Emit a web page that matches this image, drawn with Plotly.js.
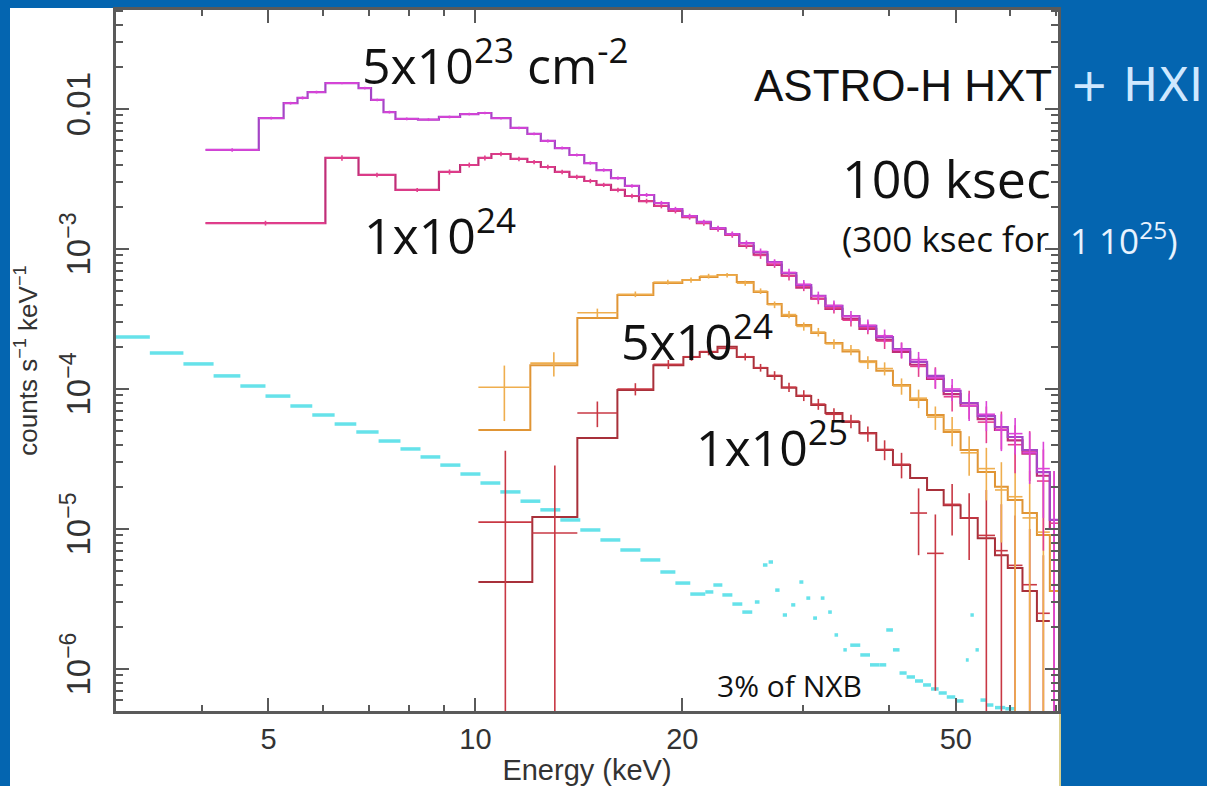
<!DOCTYPE html>
<html><head><meta charset="utf-8">
<script src="https://cdn.plot.ly/plotly-3.0.1.min.js"></script>
<style>html,body{margin:0;padding:0;background:#0465b0;overflow:hidden}</style>
</head><body><div id="chart" style="width:1207px;height:786px"></div>
<script>
// ================= DATA =================
// N_H = 5x10^23 cm^-2 (bin edges in keV, counts s^-1 keV^-1)
const edges5e23 = [4.05, 4.84, 5.26, 5.51, 5.70, 6.05, 6.76, 7.05, 7.35, 7.65, 8.25, 8.85, 9.5, 10.1, 10.55, 11.25, 11.9, 12.45, 13.05, 13.7, 14.4, 15.0, 15.75, 16.5, 17.3, 18.2, 19.1, 20.0, 21.0, 22.0, 23.1, 24.2, 25.4, 26.6, 27.9, 29.3, 30.8, 32.3, 34.2, 36.2, 38.3, 40.5, 42.9, 45.4, 48.0, 50.8, 53.8, 57.0, 59.5, 62.5, 65.6, 68.5, 70.5];
const model5e23 = [5.10e-3, 8.6e-3, 1.10e-2, 1.20e-2, 1.32e-2, 1.53e-2, 1.41e-2, 1.16e-2, 9.5e-3, 8.5e-3, 8.4e-3, 8.77e-3, 9.2e-3, 9.36e-3, 8.6e-3, 7.32e-3, 6.63e-3, 5.91e-3, 5.26e-3, 4.69e-3, 4.11e-3, 3.66e-3, 3.21e-3, 2.82e-3, 2.43e-3, 2.13e-3, 1.93e-3, 1.72e-3, 1.56e-3, 1.41e-3, 1.28e-3, 1.10e-3, 9.5e-4, 8.07e-4, 6.74e-4, 5.53e-4, 4.62e-4, 3.92e-4, 3.32e-4, 2.82e-4, 2.35e-4, 1.93e-4, 1.56e-4, 1.24e-4, 9.68e-5, 7.94e-5, 6.41e-5, 5.35e-5, 4.54e-5, 3.66e-5, 2.55e-5, 1.16e-5];
const data5e23 = [5.10e-3, 8.6e-3, 1.10e-2, 1.20e-2, 1.32e-2, 1.53e-2, 1.41e-2, 1.16e-2, 9.5e-3, 8.5e-3, 8.4e-3, 8.77e-3, 9.2e-3, 9.36e-3, 8.6e-3, 7.32e-3, 6.63e-3, 5.91e-3, 5.26e-3, 4.69e-3, 4.11e-3, 3.66e-3, 3.21e-3, 2.82e-3, 2.43e-3, 2.13e-3, 1.93e-3, 1.72e-3, 1.56e-3, 1.41e-3, 1.28e-3, 1.10e-3, 9.6e-4, 8.0e-4, 6.8e-4, 5.6e-4, 4.6e-4, 3.95e-4, 3.3e-4, 2.85e-4, 2.4e-4, 1.9e-4, 1.62e-4, 1.2e-4, 1.0e-4, 7.6e-5, 6.6e-5, 5.1e-5, 4.8e-5, 3.5e-5, 2.7e-5, 1.0e-5];
const err5e23 = [1.5e-4, 2e-4, 2.5e-4, 3e-4, 3e-4, 3e-4, 3e-4, 2.5e-4, 2.2e-4, 2e-4, 2e-4, 2e-4, 2e-4, 2e-4, 1.8e-4, 1.6e-4, 1.5e-4, 1.4e-4, 1.3e-4, 1.2e-4, 1.1e-4, 1.0e-4, 9e-5, 8.5e-5, 8e-5, 7.5e-5, 7e-5, 6.5e-5, 6e-5, 5.8e-5, 5.5e-5, 5e-5, 4.8e-5, 4.5e-5, 4.2e-5, 4e-5, 3.6e-5, 3.3e-5, 3e-5, 2.8e-5, 2.6e-5, 2.4e-5, 2.2e-5, 2e-5, 1.8e-5, 1.7e-5, 1.6e-5, 1.5e-5, 1.4e-5, 1.4e-5, 1.5e-5, 1.6e-5];

// N_H = 1x10^24
const edges1e24 = [4.05, 6.05, 6.76, 7.65, 8.85, 9.5, 10.1, 10.55, 11.25, 11.9, 12.45, 13.05, 13.7, 14.4, 15.0, 15.75, 16.5, 17.3, 18.2, 19.1, 20.0, 21.0, 22.0, 23.1, 24.2, 25.4, 26.6, 27.9, 29.3, 30.8, 32.3, 34.2, 36.2, 38.3, 40.5, 42.9, 45.4, 48.0, 50.8, 53.8, 57.0, 59.5, 62.5, 65.6, 68.5, 70.5];
const model1e24 = [1.53e-3, 4.47e-3, 3.38e-3, 2.64e-3, 3.55e-3, 3.98e-3, 4.47e-3, 4.77e-3, 4.4e-3, 4.18e-3, 3.85e-3, 3.55e-3, 3.27e-3, 3.06e-3, 2.87e-3, 2.64e-3, 2.39e-3, 2.20e-3, 2.03e-3, 1.87e-3, 1.69e-3, 1.53e-3, 1.39e-3, 1.26e-3, 1.05e-3, 9.1e-4, 7.7e-4, 6.45e-4, 5.3e-4, 4.42e-4, 3.74e-4, 3.17e-4, 2.69e-4, 2.24e-4, 1.84e-4, 1.49e-4, 1.18e-4, 9.2e-5, 7.6e-5, 6.1e-5, 5.1e-5, 4.3e-5, 3.45e-5, 2.4e-5, 1.0e-5];
const data1e24 = [1.53e-3, 4.47e-3, 3.38e-3, 2.64e-3, 3.55e-3, 3.98e-3, 4.47e-3, 4.77e-3, 4.4e-3, 4.18e-3, 3.85e-3, 3.55e-3, 3.27e-3, 3.06e-3, 2.87e-3, 2.64e-3, 2.39e-3, 2.20e-3, 2.03e-3, 1.87e-3, 1.69e-3, 1.53e-3, 1.39e-3, 1.26e-3, 1.06e-3, 9.0e-4, 7.8e-4, 6.4e-4, 5.4e-4, 4.4e-4, 3.8e-4, 3.1e-4, 2.75e-4, 2.2e-4, 1.9e-4, 1.45e-4, 1.22e-4, 8.8e-5, 7.9e-5, 5.8e-5, 5.3e-5, 4.0e-5, 3.6e-5, 2.2e-5, 1.1e-5];
const err1e24 = [6e-5, 2e-4, 1.3e-4, 9e-5, 1.5e-4, 1.6e-4, 1.8e-4, 1.8e-4, 1.6e-4, 1.5e-4, 1.4e-4, 1.3e-4, 1.2e-4, 1.1e-4, 1.0e-4, 9.5e-5, 9e-5, 8.5e-5, 8e-5, 7.5e-5, 7e-5, 6.5e-5, 6e-5, 5.8e-5, 5.5e-5, 5e-5, 4.7e-5, 4.4e-5, 4e-5, 3.7e-5, 3.4e-5, 3.1e-5, 2.9e-5, 2.7e-5, 2.5e-5, 2.3e-5, 2.1e-5, 1.9e-5, 1.8e-5, 1.7e-5, 1.6e-5, 1.5e-5, 1.4e-5, 1.5e-5, 1.5e-5];

// N_H = 5x10^24
const edges5e24 = [10.1, 12.02, 14.07, 16.09, 18.15, 20.0, 21.2, 22.5, 24.0, 25.4, 26.6, 27.9, 29.3, 30.8, 32.3, 34.2, 36.2, 38.3, 40.5, 42.9, 45.4, 48.0, 50.8, 53.8, 57.0, 59.5, 62.5, 65.6, 68.5, 70.5];
const model5e24 = [5.09e-5, 1.48e-4, 3.21e-4, 4.69e-4, 5.71e-4, 6.01e-4, 6.31e-4, 6.52e-4, 5.81e-4, 4.93e-4, 4.05e-4, 3.32e-4, 2.87e-4, 2.51e-4, 2.13e-4, 1.85e-4, 1.58e-4, 1.35e-4, 1.07e-4, 8.35e-5, 6.52e-5, 4.93e-5, 3.66e-5, 2.55e-5, 2.0e-5, 1.61e-5, 1.30e-5, 9.06e-6, 3.6e-6];
const data5e24 = [1.03e-4, 1.53e-4, 3.5e-4, 4.75e-4, 5.8e-4, 6.0e-4, 6.4e-4, 6.5e-4, 5.7e-4, 5.0e-4, 4.0e-4, 3.4e-4, 2.8e-4, 2.55e-4, 2.1e-4, 1.9e-4, 1.55e-4, 1.4e-4, 1.05e-4, 8.6e-5, 6.3e-5, 5.1e-5, 3.5e-5, 2.7e-5, 1.9e-5, 1.7e-5, 1.2e-5, 9.5e-6, 4e-6];
const err5e24 = [4.4e-5, 3.0e-5, 2.5e-5, 2.2e-5, 2.2e-5, 2.5e-5, 2.5e-5, 2.5e-5, 2.4e-5, 2.3e-5, 2.2e-5, 2.0e-5, 1.9e-5, 1.8e-5, 1.7e-5, 1.6e-5, 1.6e-5, 1.5e-5, 1.4e-5, 1.3e-5, 1.2e-5, 1.2e-5, 1.1e-5, 1.1e-5, 1.1e-5, 1.8e-5, 1.4e-5, 1.2e-5, 6e-6];

// N_H = 1x10^25
const edges1e25 = [10.1, 12.1, 14.07, 16.09, 18.15, 20.07, 21.2, 22.5, 24.0, 25.4, 26.6, 27.9, 29.3, 30.8, 32.3, 34.2, 36.2, 38.3, 40.5, 42.9, 45.4, 48.0, 50.8, 53.8, 57.0, 59.5, 62.5, 65.6, 68.5];
const model1e25 = [4.18e-6, 1.22e-5, 4.47e-5, 9.84e-5, 1.48e-4, 1.69e-4, 1.84e-4, 2.0e-4, 1.69e-4, 1.41e-4, 1.24e-4, 1.02e-4, 8.9e-5, 7.69e-5, 6.74e-5, 5.81e-5, 4.85e-5, 3.66e-5, 2.86e-5, 2.31e-5, 1.90e-5, 1.48e-5, 1.20e-5, 8.6e-6, 6.5e-6, 5.26e-6, 3.6e-6, 2.2e-6];
const data1e25 = [1.12e-5, 9.36e-6, 6.74e-5, 1.0e-4, 1.5e-4, 1.7e-4, 1.85e-4, 1.95e-4, 1.7e-4, 1.42e-4, 1.25e-4, 1.03e-4, 9.0e-5, 7.8e-5, 6.6e-5, 5.9e-5, 4.8e-5, 3.7e-5, 2.9e-5, 1.3e-5, 6.7e-6, 1.5e-5, 1.2e-5, 9e-6, 7e-6, 5.5e-6, 4e-6, 2.5e-6];
const err1e25 = [2.5e-5, 1.9e-5, 1.4e-5, 1.0e-5, 1.1e-5, 1.1e-5, 1.1e-5, 1.1e-5, 1.0e-5, 9e-6, 9e-6, 8e-6, 8e-6, 7e-6, 7e-6, 6.5e-6, 6e-6, 6e-6, 6e-6, 6.5e-6, 6e-6, 6e-6, 6e-6, 1e-5, 8e-6, 7e-6, 6e-6, 4e-6];

// 3% of NXB (bin low edge, bin high edge, value)
const nxbLo = [3.0, 3.36, 3.76, 4.16, 4.55, 4.95, 5.38, 5.79, 6.24, 6.71, 7.23, 7.78, 8.32, 8.89, 9.51, 10.17, 10.87, 11.63, 12.43, 13.29, 14.21, 15.2, 16.25, 17.38, 18.58, 19.54, 20.54, 21.6, 22.19, 22.87, 23.65, 24.45, 25.5, 26.2, 26.7, 27.3, 28.0, 28.8, 29.6, 30.3, 31.0, 31.8, 32.6, 33.3, 34.3, 35.1, 36.3, 37.5, 38.7, 39.6, 40.5, 41.4, 42.4, 43.6, 44.8, 46.0, 47.2, 48.5, 49.9, 51.7, 52.5, 53.4, 54.3, 55.3, 57.0, 59.0];
const nxbHi = [3.36, 3.76, 4.16, 4.55, 4.95, 5.38, 5.79, 6.24, 6.71, 7.23, 7.78, 8.32, 8.89, 9.51, 10.17, 10.87, 11.63, 12.43, 13.29, 14.21, 15.2, 16.25, 17.38, 18.58, 19.54, 20.54, 21.6, 22.19, 22.87, 23.65, 24.45, 25.28, 25.9, 26.6, 27.1, 27.7, 28.4, 29.2, 30.0, 30.7, 31.4, 32.2, 33.0, 33.7, 34.7, 36.3, 37.5, 38.7, 39.6, 40.5, 41.4, 42.4, 43.6, 44.8, 46.0, 47.2, 48.5, 49.9, 51.3, 52.2, 53.1, 54.0, 55.3, 56.7, 59.0, 61.0];
const nxbVal = [2.35e-4, 1.81e-4, 1.51e-4, 1.24e-4, 1.05e-4, 8.9e-5, 7.56e-5, 6.52e-5, 5.62e-5, 4.93e-5, 4.25e-5, 3.73e-5, 3.27e-5, 2.86e-5, 2.47e-5, 2.13e-5, 1.84e-5, 1.58e-5, 1.37e-5, 1.16e-5, 9.84e-6, 8.35e-6, 7.08e-6, 6.01e-6, 4.93e-6, 4.11e-6, 3.43e-6, 3.55e-6, 3.98e-6, 3.38e-6, 2.91e-6, 2.55e-6, 3.01e-6, 5.53e-6, 5.81e-6, 3.66e-6, 2.43e-6, 2.87e-6, 4.18e-6, 3.21e-6, 2.31e-6, 3.21e-6, 2.55e-6, 1.75e-6, 1.37e-6, 1.48e-6, 1.26e-6, 1.07e-6, 1.07e-6, 1.90e-6, 1.37e-6, 9.36e-7, 8.77e-7, 8.21e-7, 7.69e-7, 7.2e-7, 6.74e-7, 6.31e-7, 5.91e-7, 1.16e-6, 2.43e-6, 1.37e-6, 6.0e-7, 5.53e-7, 5.3e-7, 5.2e-7];

// axis ticks
const xTickVals = [5, 10, 20, 50];
const xTickText = ['5', '10', '20', '50'];
const xMinorVals = [4, 6, 7, 8, 9, 30, 40, 60, 70];
const yTickVals = [1e-6, 1e-5, 1e-4, 1e-3, 1e-2];
const yTickText = ['10<sup>\u22126</sup>', '10<sup>\u22125</sup>', '10<sup>\u22124</sup>', '10<sup>\u22123</sup>', '0.01'];

// ================= BUILD =================
function stepTrace(edges, vals, color, width) {
  return {x: edges, y: vals.concat([vals[vals.length - 1]]), mode: 'lines',
    line: {shape: 'hv', color: color, width: width}, hoverinfo: 'skip', showlegend: false};
}
function crossTrace(lo, hi, vals, errs, color, th) {
  const c = [], ep = [], em = [];
  for (let i = 0; i < vals.length; i++) {
    const m = Math.sqrt(lo[i] * hi[i]);
    c.push(m); ep.push(hi[i] - m); em.push(m - lo[i]);
  }
  const t = {x: c, y: vals, mode: 'markers', marker: {size: 2, color: 'rgba(0,0,0,0)'},
    error_x: {type: 'data', symmetric: false, array: ep, arrayminus: em, width: 0, thickness: th, color: color},
    hoverinfo: 'skip', showlegend: false};
  if (errs) t.error_y = {type: 'data', array: errs, width: 0, thickness: th, color: color};
  return t;
}
const lows = e => e.slice(0, -1), highs = e => e.slice(1);

const yMinor = [];
for (let d = -7; d <= -2; d++) for (let k = 2; k <= 9; k++) yMinor.push(k * Math.pow(10, d));

const traces = [
  crossTrace(nxbLo, nxbHi, nxbVal, null, '#66e2ea', 3.5),
  stepTrace(edges1e25, model1e25, '#a8303a', 2),
  crossTrace(lows(edges1e25), highs(edges1e25), data1e25, err1e25, '#c83844', 1.6),
  stepTrace(edges5e24, model5e24, '#e09535', 2),
  crossTrace(lows(edges5e24), highs(edges5e24), data5e24, err5e24, '#efae4e', 1.6),
  stepTrace(edges1e24, model1e24, '#c02e78', 2.2),
  crossTrace(lows(edges1e24), highs(edges1e24), data1e24, err1e24, '#e4408e', 1.6),
  stepTrace(edges5e23, model5e23, '#a445c6', 2.2),
  crossTrace(lows(edges5e23), highs(edges5e23), data5e23, err5e23, '#dc44d8', 1.6)
];

const axCol = '#5a5a5a';
const axFam = 'Liberation Sans, Arial, sans-serif';
const px = v => (v - 116) / 942, py = v => (711 - v) / 701;
const ann = (text, x, y, size, color, family) => ({text: text, x: px(x), y: py(y), xref: 'paper', yref: 'paper',
  xanchor: 'left', yanchor: 'middle', showarrow: false,
  font: {family: family || 'Open Sans, sans-serif', size: size, color: color || '#111'}});

const layout = {
  width: 1207, height: 786,
  paper_bgcolor: '#0465b0', plot_bgcolor: '#ffffff',
  margin: {l: 116, r: 149, t: 10, b: 75},
  showlegend: false,
  xaxis: {type: 'log', range: [Math.log10(3), Math.log10(70.4)], autorange: false,
    tickmode: 'array', tickvals: xTickVals, ticktext: xTickText,
    ticks: 'inside', ticklen: 13, tickwidth: 2, tickcolor: axCol,
    showline: true, linecolor: axCol, linewidth: 3, mirror: 'allticks',
    showgrid: false, zeroline: false, tickfont: {family: axFam, size: 29, color: '#333'}, ticklabelstandoff: 0,
    minor: {tickvals: xMinorVals, ticks: 'inside', ticklen: 6, tickwidth: 2, tickcolor: axCol, showgrid: false},
    title: {text: 'Energy (keV)', font: {family: axFam, size: 29, color: '#333'}, standoff: 6},
    automargin: false},
  yaxis: {type: 'log', range: [-6.3, -1.293], autorange: false,
    tickmode: 'array', tickvals: yTickVals, ticktext: yTickText, tickangle: -90,
    ticks: 'inside', ticklen: 13, tickwidth: 2, tickcolor: axCol,
    showline: true, linecolor: axCol, linewidth: 3, mirror: 'allticks',
    showgrid: false, zeroline: false, tickfont: {family: axFam, size: 33, color: '#333'}, ticklabelstandoff: 10,
    minor: {tickvals: yMinor, ticks: 'inside', ticklen: 7, tickwidth: 2, tickcolor: axCol, showgrid: false},
    title: {text: 'counts s<sup>\u22121</sup> keV<sup>\u22121</sup>', font: {family: axFam, size: 26, color: '#333'}, standoff: 10},
    automargin: false},
  shapes: [
    {type: 'rect', xref: 'paper', yref: 'paper', x0: px(10), x1: px(1060), y0: py(786), y1: py(8),
      fillcolor: '#ffffff', line: {width: 0}, layer: 'below'},
    {type: 'line', xref: 'paper', yref: 'paper', x0: px(1060), x1: px(1060), y0: py(786), y1: py(8),
      line: {color: '#d9cf8c', width: 2}, layer: 'below'}
  ],
  annotations: [
    ann('5x10<sup>23</sup> cm<sup>-2</sup>', 360, 62, 50),
    ann('1x10<sup>24</sup>', 362, 233, 50),
    ann('5x10<sup>24</sup>', 619, 338, 50),
    ann('1x10<sup>25</sup>', 694, 444, 50),
    ann('ASTRO-H HXT', 752, 85, 44, '#111', axFam),
    ann('+ HXI', 1068, 85, 46, '#cfe8ff', 'DejaVu Sans, sans-serif'),
    ann('100 ksec', 840, 177, 52),
    ann('(300 ksec for', 840, 238, 35),
    ann('1 10<sup>25</sup>)', 1068, 238, 35, '#e8f3ff'),
    ann('3% of NXB', 715, 685, 30)
  ]
};

Plotly.newPlot('chart', traces, layout, {staticPlot: true, displayModeBar: false});
</script></body></html>
